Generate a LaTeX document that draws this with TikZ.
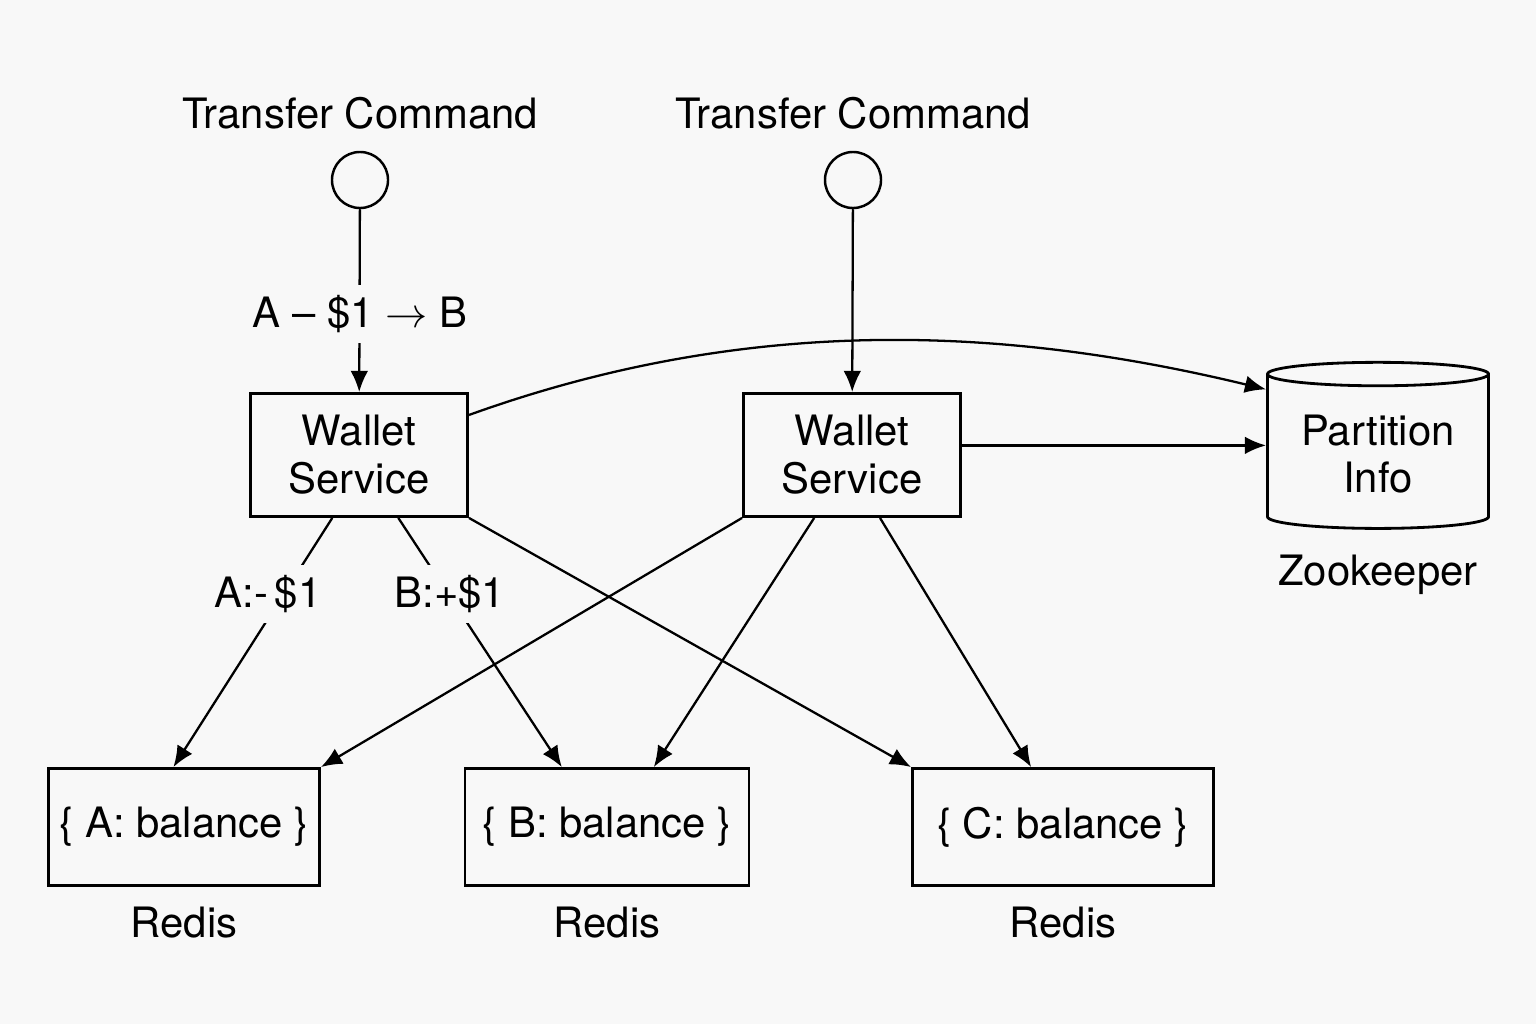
\documentclass[tikz,border=0pt]{standalone}
\usepackage{fontspec}
\setmainfont{TeX Gyre Heros}
\usetikzlibrary{arrows.meta,shapes.geometric,positioning}
\definecolor{paper}{RGB}{248,248,248}
\tikzset{
  basic/.style    = {font=\fontsize{11.9}{13.6}\selectfont, inner sep=2pt},
  service/.style  = {basic, draw, line width=0.8pt, rectangle, align=center, minimum width=2.17cm, minimum height=1.23cm},
  redisbox/.style = {basic, draw, line width=0.8pt, rectangle, minimum height=1.17cm},
  zkstore/.style  = {basic, draw, line width=0.8pt, cylinder, shape border rotate=90, aspect=0.14, align=center, minimum width=2.21cm, minimum height=1.66cm},
  entry/.style    = {draw, circle, line width=0.7pt, minimum size=0.56cm, inner sep=0pt},
  note/.style     = {basic, fill=paper, inner sep=3pt}
}

\begin{document}
\begin{tikzpicture}[x=0.01cm, y=-0.01cm, line width=0.65pt,
  >={Latex[length=6pt,width=5pt]}]

\fill[paper] (0,0) rectangle (1536,1024);

% entry points with their commands
\node [entry] (c1) at (360,180) {};
\node [entry] (c2) at (853,180) {};
\node [basic, above=0.13cm of c1] (t1) {Transfer Command};
\node [basic, above=0.13cm of c2] (t2) {Transfer Command};

% wallet services and the partition store
\node [service] (w1) at (359,455) {Wallet\\Service};
\node [service] (w2) at (852,455) {Wallet\\Service};
\node [zkstore] (zk) at (1378,454) {Partition\\Info};
\node [basic, below=0.17cm of zk] (zkname) {Zookeeper};

% redis shards
\node [redisbox, minimum width=2.71cm] (rA) at (184,827) {\{ A: balance \}};
\node [redisbox, minimum width=2.84cm] (rB) at (607,827) {\{ B: balance \}};
\node [redisbox, minimum width=3.01cm] (rC) at (1063,827) {\{ C: balance \}};
\node [basic, below=0.12cm of rA] (nA) {Redis};
\node [basic, below=0.12cm of rB] (nB) {Redis};
\node [basic, below=0.12cm of rC] (nC) {Redis};

% commands into the services
\draw[->] (c1) -- (w1);
\draw[->] (c2) -- (w2);

% lookups of the partition info
\draw[->] (w1.20) .. controls (760,310) and (1020,330) .. (zk.150);
\draw[->] (w2.5) -- (w2.5 -| zk.west);

% updates to the shards
\draw[->] (w1.247) -- (rA.100);
\draw[->] (w1.302) -- (rB.127);
\draw[->] (w1.south east) -- (rC.north west);
\draw[->] (w2.south west) -- (rA.north east);
\draw[->] (w2.239) -- (rB.52);
\draw[->] (w2.294) -- (rC.118);

% labels over the lines
\node [note] (m1) at (360,314) {A -- \$1 $\rightarrow$ B};
\node [note] (m2) at (268,594) {A:-\,\$1};
\node [note] (m3) at (450,594) {B:+\$1};

\end{tikzpicture}
\end{document}
